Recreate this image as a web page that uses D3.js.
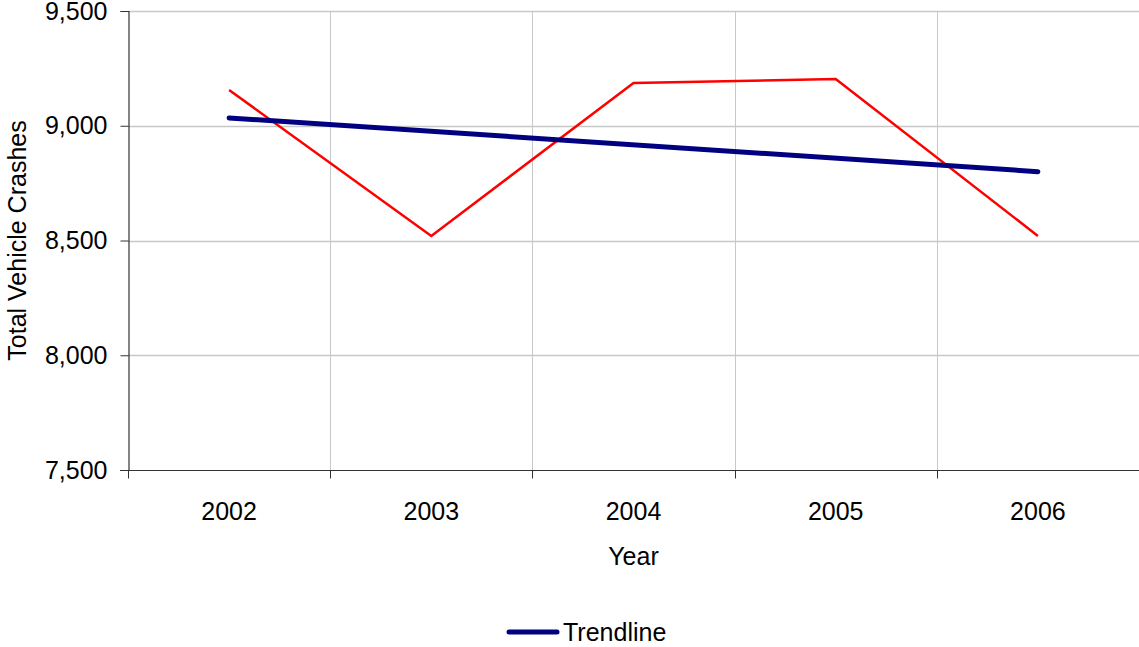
<!DOCTYPE html>
<html>
<head>
<meta charset="utf-8">
<script src="https://cdn.jsdelivr.net/npm/d3@7"></script>
<style>
html,body{margin:0;padding:0;background:#fff;}
svg{display:block;}
text{font-family:"Liberation Sans",Arial,sans-serif;fill:#000;}
</style>
</head>
<body>
<svg id="chart" width="1139" height="647"></svg>
<script>
const years = ["2002","2003","2004","2005","2006"];
const crashes = [9156, 8520, 9186, 9204, 8520];
const trendline = [9034, 8800]; // trendline values at 2002 and 2006
const yTicks = [7500, 8000, 8500, 9000, 9500];

const W = 1139, H = 647;
const m = {left:128, right:0, top:11, bottom:177};
const svg = d3.select("#chart");
const x = d3.scaleBand().domain(years).range([m.left, W - m.right]);
const y = d3.scaleLinear().domain([7500, 9500]).range([H - m.bottom, m.top]);
const cx = d => x(d) + x.bandwidth()/2;

// horizontal gridlines
svg.append("g").selectAll("line").data(yTicks.slice(1)).join("line")
  .attr("x1", m.left).attr("x2", W)
  .attr("y1", d => Math.round(y(d))+0.5).attr("y2", d => Math.round(y(d))+0.5)
  .attr("stroke", "#c8c8c8").attr("stroke-width", 1.5);
// vertical gridlines at category boundaries
svg.append("g").selectAll("line").data(years.slice(1)).join("line")
  .attr("x1", d => Math.round(x(d))+0.5).attr("x2", d => Math.round(x(d))+0.5)
  .attr("y1", m.top).attr("y2", y(7500))
  .attr("stroke", "#c8c8c8").attr("stroke-width", 1);

// y axis
const yAxis = d3.axisLeft(y).tickValues(yTicks).tickSize(8).tickPadding(13)
  .tickFormat(d3.format(","));
const gy = svg.append("g").attr("transform", `translate(${m.left+0.5},0)`).call(yAxis);
gy.select(".domain").attr("stroke", "#333").attr("stroke-width", 1.2);
gy.selectAll(".tick line").attr("stroke", "#333");
gy.selectAll(".tick text").style("font-size", "25px").attr("font-family", null);

// x axis (ticks at category boundaries)
const gx = svg.append("g").attr("transform", `translate(0,${Math.round(y(7500))+0.5})`);
gx.append("line").attr("x1", m.left - 8).attr("x2", W).attr("stroke", "#333").attr("stroke-width", 1.2);
gx.selectAll("line.t").data(years.concat(["end"])).join("line").attr("class","t")
  .attr("x1", (d,i) => Math.round(m.left + i*x.bandwidth())+0.5)
  .attr("x2", (d,i) => Math.round(m.left + i*x.bandwidth())+0.5)
  .attr("y1", 0).attr("y2", 8).attr("stroke", "#333");
gx.selectAll("text").data(years).join("text")
  .attr("x", d => cx(d)).attr("y", 49).attr("text-anchor", "middle")
  .style("font-size", "25px").text(d => d);

// axis titles
svg.append("text").attr("x", W/2 + m.left/2).attr("y", 565).attr("text-anchor","middle")
  .style("font-size","25px").text("Year");
svg.append("text").attr("transform", `translate(26,${(m.top + y(7500))/2}) rotate(-90)`)
  .attr("text-anchor","middle").style("font-size","25px").text("Total Vehicle Crashes");

// data line
const line = d3.line().x((d,i) => cx(years[i])).y(d => y(d));
svg.append("path").datum(crashes).attr("d", line)
  .attr("fill","none").attr("stroke","#ff0000").attr("stroke-width",2.5);

// trendline
svg.append("line")
  .attr("x1", cx(years[0])).attr("y1", y(trendline[0]))
  .attr("x2", cx(years[years.length-1])).attr("y2", y(trendline[1]))
  .attr("stroke","#000080").attr("stroke-width",5).attr("stroke-linecap","round");

// legend
const lg = svg.append("g").attr("transform","translate(507,632)");
lg.append("line").attr("x1",2).attr("x2",50).attr("stroke","#000080").attr("stroke-width",5).attr("stroke-linecap","round");
lg.append("text").attr("x",56).attr("y",9).style("font-size","25px").text("Trendline");
</script>
</body>
</html>
